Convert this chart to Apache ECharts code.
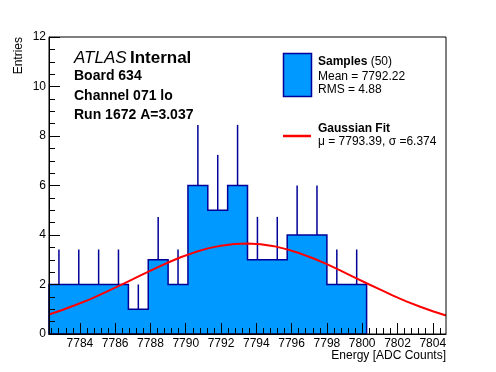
<!DOCTYPE html>
<html><head><meta charset="utf-8">
<script src="https://cdn.jsdelivr.net/npm/echarts@6/dist/echarts.min.js"></script>
<style>html,body{margin:0;padding:0;background:#fff}#c{width:496px;height:372px}</style>
</head><body><div id="c"></div>
<script>
// ---- data ----
const xMin = 7782.25, xMax = 7804.75, binWidth = 1.125;
const counts = [2, 2, 2, 2, 1, 3, 2, 6, 5, 6, 3, 3, 4, 4, 2, 2, 0, 0, 0, 0];
const errors = [1.414, 1.414, 1.414, 1.414, 1, 1.732, 1.414, 2.449, 2.236, 2.449, 1.732, 1.732, 2, 2, 1.414, 1.414, 0, 0, 0, 0];
const fitX = [7782.25, 7783.0, 7783.75, 7784.5, 7785.25, 7786.0, 7786.75, 7787.5, 7788.25, 7789.0, 7789.75,
  7790.5, 7791.25, 7792.0, 7792.75, 7793.5, 7794.25, 7795.0, 7795.75, 7796.5, 7797.25, 7798.0, 7798.75,
  7799.5, 7800.25, 7801.0, 7801.75, 7802.5, 7803.25, 7804.0, 7804.75];
const fitY = [0.79, 0.97, 1.17, 1.38, 1.62, 1.87, 2.13, 2.39, 2.64, 2.89, 3.11,
  3.30, 3.46, 3.57, 3.64, 3.66, 3.63, 3.55, 3.42, 3.25, 3.05, 2.82, 2.57,
  2.31, 2.05, 1.80, 1.55, 1.32, 1.11, 0.92, 0.75];
const xMajorTicks = [7784, 7786, 7788, 7790, 7792, 7794, 7796, 7798, 7800, 7802, 7804];
const xMinorTicks = [];
for (let v = 7782.4; v < xMax; v += 0.4) xMinorTicks.push(Math.round(v * 10) / 10);

const FILL = '#0099ff', EDGE = '#000099', FONT = 'Liberation Sans, Arial, sans-serif';

// histogram outline built from bins
let last = counts.length - 1;
while (last >= 0 && counts[last] === 0) last--;
const outline = [[xMin, 0]];
for (let i = 0; i <= last; i++) {
  const lo = xMin + i * binWidth, hi = lo + binWidth;
  outline.push([lo, counts[i]], [hi, counts[i]]);
}
outline.push([xMin + (last + 1) * binWidth, 0]);

const errData = [];
counts.forEach((c, i) => { if (c > 0) errData.push([xMin + (i + 0.5) * binWidth, c, errors[i]]); });

const chart = echarts.init(document.getElementById('c'), null, {renderer: 'canvas'});
chart.setOption({
  animation: false,
  grid: {left: 49, top: 37, right: 50, bottom: 38, show: true, borderColor: '#000', borderWidth: 1, z: 10},
  xAxis: [{
    type: 'value', min: xMin, max: xMax, z: 10,
    axisLine: {show: true, onZero: false, lineStyle: {color: '#000', width: 1}},
    axisTick: {show: true, inside: true, length: 11, customValues: xMajorTicks, lineStyle: {color: '#000'}},
    axisLabel: {show: true, customValues: xMajorTicks, formatter: v => String(v), color: '#000', fontSize: 12, fontFamily: FONT, margin: 4},
    splitLine: {show: false}
  }, {
    type: 'value', min: xMin, max: xMax, z: 10, position: 'bottom', gridIndex: 0,
    axisLine: {show: false},
    axisTick: {show: true, inside: true, length: 6, customValues: xMinorTicks, lineStyle: {color: '#000'}},
    axisLabel: {show: false},
    splitLine: {show: false}
  }],
  yAxis: {
    type: 'value', min: 0, max: 12, interval: 2, z: 10,
    axisLine: {show: true, lineStyle: {color: '#000', width: 1}},
    axisTick: {show: true, inside: true, length: 11, lineStyle: {color: '#000'}},
    minorTick: {show: true, splitNumber: 4, length: 6, lineStyle: {color: '#000'}},
    axisLabel: {color: '#000', fontSize: 12, fontFamily: FONT, margin: 3},
    splitLine: {show: false}
  },
  series: [{
    type: 'custom', name: 'hist', z: 2, data: [[xMin, 0]],
    renderItem: (params, api) => ({
      type: 'polygon',
      shape: {points: outline.map(p => api.coord(p))},
      style: {fill: FILL, stroke: EDGE, lineWidth: 1.5}
    })
  }, {
    type: 'custom', name: 'errors', z: 3, data: errData,
    renderItem: (params, api) => {
      const x = api.value(0), c = api.value(1), e = api.value(2);
      const p0 = api.coord([x, c]), p1 = api.coord([x, c + e]);
      return {type: 'line', shape: {x1: p0[0], y1: p0[1], x2: p1[0], y2: p1[1]}, style: {stroke: EDGE, lineWidth: 1.5}};
    }
  }, {
    type: 'line', name: 'fit', z: 4, data: fitX.map((x, i) => [x, fitY[i]]),
    showSymbol: false, smooth: false, lineStyle: {color: '#ff0000', width: 2}
  }],
  graphic: [
    {type: 'text', x: 19, y: 37, rotation: Math.PI / 2, style: {text: 'Entries', font: '12px ' + FONT, fill: '#000', align: 'right', verticalAlign: 'middle'}},
    {type: 'text', x: 446, y: 356, style: {text: 'Energy [ADC Counts]', font: '12px ' + FONT, fill: '#000', align: 'right', verticalAlign: 'middle'}},
    {type: 'text', x: 74, y: 58, style: {
      text: '{a|ATLAS} {b|Internal}', verticalAlign: 'middle',
      rich: {a: {font: 'italic 17px ' + FONT, fill: '#000'}, b: {font: 'bold 17px ' + FONT, fill: '#000'}}}},
    {type: 'text', x: 74, y: 76, style: {text: 'Board 634', font: 'bold 14px ' + FONT, fill: '#000', verticalAlign: 'middle'}},
    {type: 'text', x: 74, y: 96, style: {text: 'Channel 071 lo', font: 'bold 14px ' + FONT, fill: '#000', verticalAlign: 'middle'}},
    {type: 'text', x: 74, y: 115, style: {text: 'Run 1672 A=3.037', font: 'bold 14px ' + FONT, fill: '#000', verticalAlign: 'middle'}},
    {type: 'rect', shape: {x: 283.5, y: 53.5, width: 28, height: 43}, style: {fill: FILL, stroke: EDGE, lineWidth: 1.5}},
    {type: 'text', x: 318, y: 62, style: {
      text: '{b|Samples} {r|(50)}', verticalAlign: 'middle',
      rich: {b: {font: 'bold 12px ' + FONT, fill: '#000'}, r: {font: '12px ' + FONT, fill: '#000'}}}},
    {type: 'text', x: 318, y: 77, style: {text: 'Mean = 7792.22', font: '12px ' + FONT, fill: '#000', verticalAlign: 'middle'}},
    {type: 'text', x: 318, y: 90, style: {text: 'RMS = 4.88', font: '12px ' + FONT, fill: '#000', verticalAlign: 'middle'}},
    {type: 'line', shape: {x1: 283, y1: 136, x2: 311, y2: 136}, style: {stroke: '#ff0000', lineWidth: 2.5}},
    {type: 'text', x: 318, y: 129, style: {text: 'Gaussian Fit', font: 'bold 12px ' + FONT, fill: '#000', verticalAlign: 'middle'}},
    {type: 'text', x: 318, y: 142, style: {text: 'μ = 7793.39, σ =6.374', font: '12px ' + FONT, fill: '#000', verticalAlign: 'middle'}}
  ]
});
</script></body></html>
